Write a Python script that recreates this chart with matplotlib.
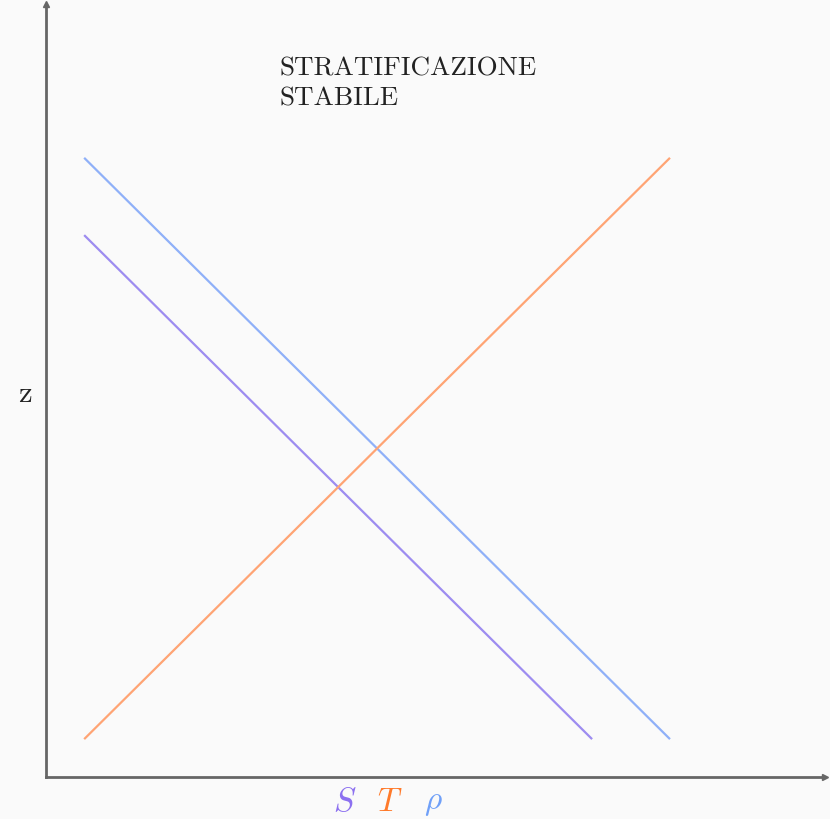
import matplotlib.pyplot as plt

plt.rcParams['mathtext.fontset'] = 'cm'

# profili verticali (estremi dei segmenti)
x_T = [0.5, 8.0]
z_T = [0.5, 8.0]
x_S = [0.5, 7.0]
z_S = [7.0, 0.5]
x_rho = [0.5, 8.0]
z_rho = [8.0, 0.5]

col_T = '#ffa474'
col_S = '#9d8cf0'
col_rho = '#8fb0f8'

fig = plt.figure(figsize=(8.3, 8.2), dpi=100, facecolor='#fafafa')
ax = fig.add_axes([46 / 830, 42 / 820, 779 / 830, 773 / 820])
ax.set_facecolor('#fafafa')

ax.plot(x_rho, z_rho, color=col_rho, lw=1.6)
ax.plot(x_S, z_S, color=col_S, lw=1.6)
ax.plot(x_T, z_T, color=col_T, lw=1.6)

ax.set_xlim(0, 10)
ax.set_ylim(0, 10)
ax.set_xticks([])
ax.set_yticks([])
for s in ['top', 'right']:
    ax.spines[s].set_visible(False)
for s in ['left', 'bottom']:
    ax.spines[s].set_color('#666666')
    ax.spines[s].set_linewidth(2)

# frecce sugli assi
ax.plot(1, 0, '>', color='#666666', ms=5, transform=ax.transAxes, clip_on=False)
ax.plot(0, 1, '^', color='#666666', ms=5, transform=ax.transAxes, clip_on=False)

ax.text(3.0, 8.98, 'STRATIFICAZIONE\nSTABILE', family='cmr10', fontsize=19.5,
        color='#222222', va='center', ha='left', linespacing=1.35)

ax.text(-0.027, 0.497, r'$\mathrm{z}$', transform=ax.transAxes, fontsize=22,
        ha='center', va='center', color='#222222')

for lab, xp, c in [(r'$S$', 345, '#8c70f0'), (r'$T$', 390, '#ff7a2a'), (r'$\rho$', 433, '#70a0f8')]:
    fig.text(xp / 830, (820 - 802) / 820, lab, fontsize=24, color=c,
             ha='center', va='center')

fig.savefig('out.png', dpi=100, facecolor=fig.get_facecolor())
